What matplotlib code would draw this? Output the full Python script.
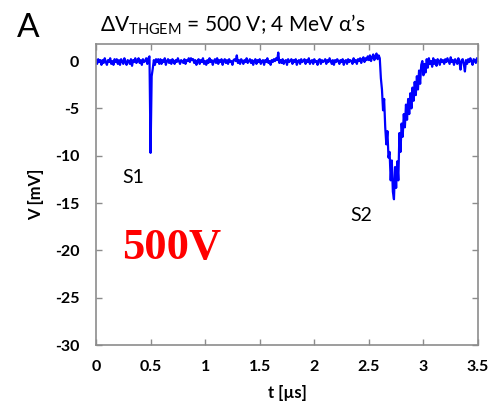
import numpy as np
import matplotlib
matplotlib.use("Agg")
import matplotlib.pyplot as plt

plt.rcParams['mathtext.fontset'] = 'custom'
plt.rcParams['mathtext.rm'] = 'Lato'
plt.rcParams['mathtext.it'] = 'Lato:italic'
plt.rcParams['mathtext.bf'] = 'Lato:bold'

# time grid in microseconds (sampling step 0.01 us)
t_start = 0.0
t_step = 0.01
# voltage values (mV), 10 per 0.1 us
v_mV = [
    0.1, -0.3, 0.2, -0.1, 0.1, -0.4, 0.1, -0.2, 0.3, -0.1,
    -0.4, 0.1, -0.1, 0.3, -0.3, 0.0, -0.4, 0.2, -0.1, 0.2,
    -0.3, 0.1, -0.4, 0.2, 0.0, -0.3, 0.3, -0.1, -0.4, 0.1,
    0.0, -0.3, 0.2, -0.5, 0.1, -0.1, 0.3, -0.2, 0.0, 0.3,
    -0.2, 0.1, -0.4, 0.2, -0.1, 0.0, 0.3, -0.3, 0.3, 0.5,
    -9.7, -1.6, -0.8, 0.1, -0.4, 0.2, -0.1, 0.2, -0.3, 0.2,
    -0.3, 0.1, -0.1, 0.3, -0.4, 0.0, 0.2, -0.2, 0.1, -0.3,
    0.2, 0.0, -0.3, 0.1, -0.1, 0.3, 0.0, -0.3, 0.1, 0.0,
    -0.2, 0.2, -0.3, 0.1, 0.0, 0.3, -0.1, 0.3, 0.1, 0.2,
    -0.2, 0.1, -0.4, 0.0, 0.2, -0.3, 0.1, -0.1, 0.3, -0.3,
    0.0, -0.4, 0.1, -0.2, 0.3, -0.1, 0.1, -0.4, 0.0, 0.2,
    -0.2, 0.3, -0.3, 0.1, -0.1, 0.2, -0.4, 0.0, 0.2, -0.2,
    0.1, -0.3, 0.2, -0.1, 0.0, -0.4, 0.1, 0.2, 0.0, 0.6,
    -0.2, 0.1, -0.3, 0.2, 0.0, -0.3, 0.1, -0.1, 0.3, -0.2,
    0.0, 0.2, -0.2, 0.1, -0.4, 0.0, 0.2, -0.3, 0.1, -0.1,
    0.2, -0.3, 0.0, 0.1, -0.4, 0.1, -0.1, 0.3, -0.2, 0.0,
    -0.4, 0.1, -0.1, 0.2, 0.0, 0.3, 0.1, 0.9, -0.2, 0.1,
    -0.2, 0.2, -0.3, 0.0, 0.1, -0.4, 0.2, -0.1, 0.0, 0.2,
    -0.3, 0.1, -0.1, 0.2, -0.4, 0.0, 0.1, -0.3, 0.2, -0.1,
    0.0, 0.2, -0.3, 0.1, -0.1, 0.3, -0.3, 0.0, 0.1, -0.3,
    0.2, -0.1, 0.0, -0.4, 0.1, 0.2, -0.3, 0.1, -0.1, 0.0,
    0.2, -0.3, 0.1, -0.1, 0.3, 0.0, -0.3, 0.1, -0.4, 0.1,
    -0.1, 0.2, 0.0, -0.3, 0.1, -0.1, 0.2, -0.4, 0.0, 0.1,
    -0.3, 0.2, -0.1, 0.1, 0.0, -0.3, 0.3, -0.1, 0.1, -0.3,
    0.2, 0.0, 0.3, -0.2, 0.2, 0.4, -0.1, 0.3, 0.1, 0.5,
    0.1, 0.6, 0.0, 0.4, 0.7, 0.1, 0.5, 0.8, 0.2, 0.6,
    0.3, -1.8, -3.0, -5.2, -4.0, -7.0, -8.8, -7.4, -10.2, -9.6,
    -12.6, -10.5, -13.8, -14.6, -11.2, -13.4, -10.6, -12.6, -7.6, -9.6,
    -6.6, -8.0, -5.6, -7.0, -4.6, -6.2, -4.0, -5.6, -3.4, -5.0,
    -2.8, -4.2, -2.2, -3.6, -1.6, -3.0, -1.0, -2.4, -0.4, 0.0,
    -1.5, -0.3, -1.2, 0.2, -0.7, 0.3, -0.3, 0.0, -0.6, 0.3,
    -0.3, 0.1, -0.5, 0.2, 0.0, -0.4, 0.2, -0.1, 0.1, -0.3,
    0.2, -0.1, 0.3, 0.0, -0.3, 0.4, -0.1, 0.1, -0.4, 0.2,
    0.0, -0.3, 0.3, -0.1, -0.9, 0.1, 0.2, -0.3, -1.1, 0.1,
    -0.3, 0.2, -0.1, 0.3, 0.0, -0.4, 0.2, 0.1, -0.2, 0.3,
    0.1,
]
t_us = t_start + t_step * np.arange(len(v_mV))

x_ticks = [0, 0.5, 1, 1.5, 2, 2.5, 3, 3.5]
x_tick_labels = ["0", "0.5", "1", "1.5", "2", "2.5", "3", "3.5"]
y_ticks = [0, -5, -10, -15, -20, -25, -30]
y_tick_labels = ["0", "-5", "-10", "-15", "-20", "-25", "-30"]

fig = plt.figure(figsize=(5.0, 4.04), dpi=100)
ax = fig.add_axes([0.192, 0.146, 0.764, 0.745])
ax.plot(t_us, v_mV, color='#0000ff', lw=1.6)
ax.set_xlim(0, 3.5)
ax.set_ylim(-30, 1.8)
ax.set_xticks(x_ticks)
ax.set_xticklabels(x_tick_labels)
ax.set_yticks(y_ticks)
ax.set_yticklabels(y_tick_labels)
for s in ax.spines.values():
    s.set_color('#8c8c8c')
    s.set_linewidth(1.2)
ax.tick_params(direction='in', top=True, right=True, length=4, width=1,
               color='#8c8c8c', labelsize=11.5)
ax.tick_params(axis='x', pad=11)
ax.tick_params(axis='y', pad=12)
for lab in ax.get_xticklabels() + ax.get_yticklabels():
    lab.set_fontfamily('Lato')
    lab.set_fontweight('bold')
ax.set_xlabel("t [µs]", fontfamily='Lato', fontweight='bold', fontsize=12, labelpad=8)
ax.set_ylabel("V [mV]", fontfamily='Lato', fontweight='bold', fontsize=12, labelpad=8)

fig.text(0.034, 0.93, "A", fontfamily='Lato', fontsize=24, va='center', ha='left')
fig.text(0.2, 0.938, r"ΔV$_{\mathrm{THGEM}}$ = 500 V; 4 MeV α’s", fontfamily='Lato',
         fontsize=15, va='center', ha='left')
ax.text(0.34, -12.3, "S1", fontfamily='Lato', fontsize=14, ha='center', va='center')
ax.text(2.43, -16.3, "S2", fontfamily='Lato', fontsize=14, ha='center', va='center')
ax.text(0.69, -19.7, "500V", fontfamily='Liberation Serif', fontweight='bold',
        fontsize=32, color='#ff0000', ha='center', va='center')

fig.savefig("out.png", dpi=100)
